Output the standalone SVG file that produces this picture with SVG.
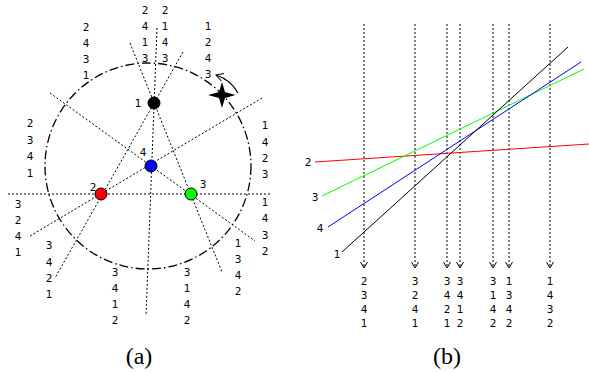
<svg xmlns="http://www.w3.org/2000/svg" width="589" height="372" viewBox="0 0 589 372">
<style>
.dot{stroke:#000;stroke-width:1;stroke-dasharray:2,2;fill:none}
.t{font-family:"DejaVu Sans",sans-serif;font-size:10.5px;fill:#000;text-anchor:middle}
.cap{font-family:"Liberation Serif",serif;font-size:24px;fill:#000;text-anchor:middle}
.pt{stroke:#000;stroke-width:1}
</style>
<defs>
<marker id="ah" markerWidth="8" markerHeight="8" refX="6" refY="4" orient="auto" markerUnits="userSpaceOnUse">
<path d="M0,0.5 L6,4 L0,7.5" fill="none" stroke="#000" stroke-width="1"/>
</marker>
<marker id="ah2" markerWidth="10" markerHeight="10" refX="8" refY="5" orient="auto" markerUnits="userSpaceOnUse">
<path d="M1,1 L8,5 L1,9" fill="none" stroke="#000" stroke-width="1"/>
</marker>
</defs>
<rect width="589" height="372" fill="#fff"/>
<!-- (a) -->
<g id="connectors-a">
<circle cx="148" cy="166" r="103" fill="none" stroke="#000" stroke-width="1.3" stroke-dasharray="9,3,1.5,3"/>
<line class="dot" x1="8" y1="194" x2="270" y2="194"/>
<line class="dot" x1="157" y1="28" x2="146" y2="316"/>
<line class="dot" x1="130" y1="43" x2="222" y2="272"/>
<line class="dot" x1="183" y1="52" x2="55" y2="278"/>
<line class="dot" x1="30" y1="236" x2="262" y2="98"/>
<line class="dot" x1="50" y1="93" x2="255" y2="241"/>
<path d="M238,93 Q231,80 216,75" fill="none" stroke="#000" stroke-width="1.1" marker-end="url(#ah2)"/>
</g>
<g id="star"><polygon points="222,82 225,92 235.5,95 225,98 222,108 219,98 208,95 219,92" fill="#000"/></g>
<g id="p1"><circle class="pt" cx="154" cy="103" r="6" fill="#000"/><text class="t" x="138" y="107">1</text></g>
<g id="p4"><circle class="pt" cx="151" cy="166" r="6" fill="#0000ff"/><text class="t" x="143" y="156">4</text></g>
<g id="p2"><circle class="pt" cx="101" cy="194" r="6" fill="#ff0000"/><text class="t" x="93" y="191">2</text></g>
<g id="p3"><circle class="pt" cx="191" cy="194" r="6" fill="#00ff00"/><text class="t" x="203" y="188">3</text></g>
<g id="labels-a">
<text class="t" x="86" y="31">2</text><text class="t" x="86" y="47">4</text><text class="t" x="86" y="63">3</text><text class="t" x="86" y="79">1</text>
<text class="t" x="145" y="14">2</text><text class="t" x="145" y="30">4</text><text class="t" x="145" y="46">1</text><text class="t" x="145" y="62">3</text>
<text class="t" x="165" y="14">2</text><text class="t" x="165" y="30">1</text><text class="t" x="165" y="46">4</text><text class="t" x="165" y="62">3</text>
<text class="t" x="208" y="30">1</text><text class="t" x="208" y="46">2</text><text class="t" x="208" y="62">4</text><text class="t" x="208" y="78">3</text>
<text class="t" x="30" y="127">2</text><text class="t" x="30" y="143.5">3</text><text class="t" x="30" y="160">4</text><text class="t" x="30" y="176.5">1</text>
<text class="t" x="265" y="129">1</text><text class="t" x="265" y="145.5">4</text><text class="t" x="265" y="162">2</text><text class="t" x="265" y="177.5">3</text>
<text class="t" x="18" y="208">3</text><text class="t" x="18" y="224">2</text><text class="t" x="18" y="240">4</text><text class="t" x="18" y="256">1</text>
<text class="t" x="265" y="206">1</text><text class="t" x="265" y="222">4</text><text class="t" x="265" y="238.5">3</text><text class="t" x="265" y="255">2</text>
<text class="t" x="49" y="249">3</text><text class="t" x="49" y="265.5">4</text><text class="t" x="49" y="282">2</text><text class="t" x="49" y="298">1</text>
<text class="t" x="238" y="247">1</text><text class="t" x="238" y="263">3</text><text class="t" x="238" y="279">4</text><text class="t" x="238" y="295">2</text>
<text class="t" x="115" y="276">3</text><text class="t" x="115" y="292">4</text><text class="t" x="115" y="308">1</text><text class="t" x="115" y="324">2</text>
<text class="t" x="187" y="276">3</text><text class="t" x="187" y="292">1</text><text class="t" x="187" y="308">4</text><text class="t" x="187" y="324">2</text>
</g>
<text class="cap" x="139" y="364">(a)</text>
<!-- (b) -->
<g id="sweeps">
<line class="dot" x1="364" y1="24" x2="364" y2="268" marker-end="url(#ah)"/>
<line class="dot" x1="415" y1="24" x2="415" y2="268" marker-end="url(#ah)"/>
<line class="dot" x1="447" y1="24" x2="447" y2="268" marker-end="url(#ah)"/>
<line class="dot" x1="460" y1="24" x2="460" y2="268" marker-end="url(#ah)"/>
<line class="dot" x1="493" y1="24" x2="493" y2="268" marker-end="url(#ah)"/>
<line class="dot" x1="509" y1="24" x2="509" y2="268" marker-end="url(#ah)"/>
<line class="dot" x1="550" y1="24" x2="550" y2="268" marker-end="url(#ah)"/>
</g>
<g id="line2"><line x1="315" y1="162" x2="589" y2="144" stroke="#ff0000" stroke-width="1"/><text class="t" x="308" y="166">2</text></g>
<g id="line3"><line x1="322" y1="196" x2="584" y2="69" stroke="#00ff00" stroke-width="1"/><text class="t" x="315" y="201">3</text></g>
<g id="line4"><line x1="328" y1="227" x2="581" y2="62" stroke="#0000ff" stroke-width="1"/><text class="t" x="320" y="232">4</text></g>
<g id="line1"><line x1="342" y1="252" x2="568" y2="47" stroke="#000" stroke-width="1"/><text class="t" x="337" y="258">1</text></g>
<g id="labels-b">
<text class="t" x="364" y="284.5">2</text><text class="t" x="364" y="298.5">3</text><text class="t" x="364" y="312.5">4</text><text class="t" x="364" y="326.5">1</text>
<text class="t" x="415" y="284.5">3</text><text class="t" x="415" y="298.5">2</text><text class="t" x="415" y="312.5">4</text><text class="t" x="415" y="326.5">1</text>
<text class="t" x="447" y="284.5">3</text><text class="t" x="447" y="298.5">4</text><text class="t" x="447" y="312.5">2</text><text class="t" x="447" y="326.5">1</text>
<text class="t" x="460" y="284.5">3</text><text class="t" x="460" y="298.5">4</text><text class="t" x="460" y="312.5">1</text><text class="t" x="460" y="326.5">2</text>
<text class="t" x="493" y="284.5">3</text><text class="t" x="493" y="298.5">1</text><text class="t" x="493" y="312.5">4</text><text class="t" x="493" y="326.5">2</text>
<text class="t" x="509" y="284.5">1</text><text class="t" x="509" y="298.5">3</text><text class="t" x="509" y="312.5">4</text><text class="t" x="509" y="326.5">2</text>
<text class="t" x="550" y="284.5">1</text><text class="t" x="550" y="298.5">4</text><text class="t" x="550" y="312.5">3</text><text class="t" x="550" y="326.5">2</text>
</g>
<text class="cap" x="447" y="364">(b)</text>
</svg>
